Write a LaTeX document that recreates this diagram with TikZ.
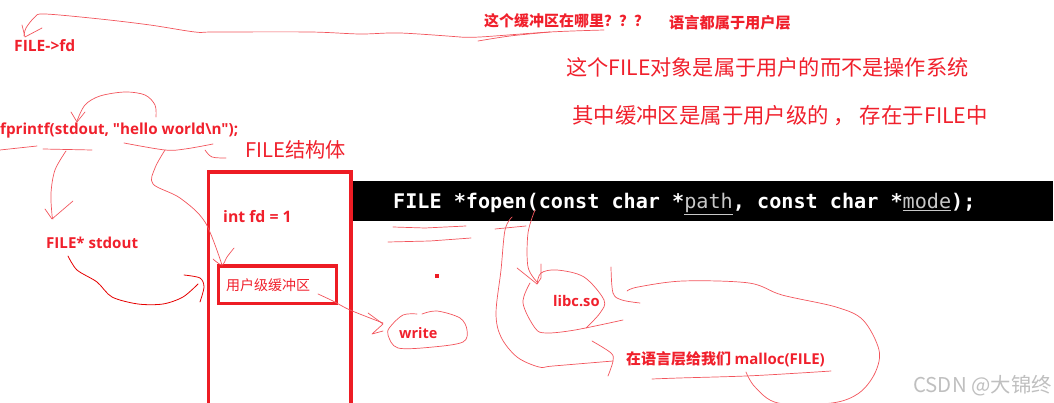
\documentclass[tikz,border=0pt]{standalone}
\usepackage{fontspec}
\setmainfont{Noto Sans CJK SC}
\newfontfamily\codefont{DejaVu Sans Mono}
\newfontfamily\latfont{Open Sans}[BoldFont={Open Sans Bold}]
\definecolor{inkred}{HTML}{F0202C}
\definecolor{penred}{HTML}{F2545C}
\definecolor{markred}{HTML}{ED1C24}
\definecolor{linkgrey}{HTML}{C8C8C8}
\newcommand{\fsz}[1]{\fontsize{#1}{#1}\selectfont}
\tikzset{
  boldnote/.style={text=inkred,inner sep=0pt,anchor=west,font=\bfseries\fsz{#1}},
  plainnote/.style={text=inkred,inner sep=0pt,anchor=west,font=\fsz{#1}},
  pen/.style={draw=penred,line width=0.7pt,line cap=round,line join=round,smooth,tension=0.55},
  hardpen/.style={draw=red!90!black,line width=0.8pt,line cap=round,line join=round},
  heavybox/.style={draw=markred,line join=miter},
}
\begin{document}
\begin{tikzpicture}[x=1pt,y=-1pt]
\useasboundingbox (0,0) rectangle (1054,403);
% black signature bar
\fill[black] (351,181) rectangle (1053,221);
\node[text=white,inner sep=0pt,anchor=west,font=\codefont\bfseries\fsz{20.15}] (sig) at (393,204)
  {FILE *fopen(const char *{\color{linkgrey}\mdseries\underline{path}}, const char *{\color{linkgrey}\mdseries\underline{mode}});};
% FILE struct boxes
\draw[heavybox,line width=3.5pt] (208.5,403) -- (208.5,172) -- (351,172) -- (351,403);
\draw[heavybox,line width=3pt] (218,266) rectangle (336,303);
% text
\node[boldnote=15.6] (fd) at (14,45.5) {\latfont\bfseries FILE->fd};
\node[boldnote=15] (where) at (484,20.5) {这个缓冲区在哪里？？？};
\node[boldnote=15.2] (lang) at (669,22.5) {语言都属于用户层};
\node[plainnote=21.2] (obj) at (566,67) {这个FILE对象是属于用户的而不是操作系统};
\node[plainnote=21.4] (buf) at (572,115.5) {其中缓冲区是属于用户级的 ， 存在于FILE中};
\node[boldnote=15.2] (fpr) at (0,131) {\latfont\bfseries fprintf(stdout, "hello world\textbackslash n");};
\node[plainnote=20.2] (struct) at (245,150) {FILE结构体};
\node[boldnote=15.8] (intfd) at (223,217) {\latfont\bfseries int fd = 1};
\node[boldnote=15.1] (stdout) at (46,243) {\latfont\bfseries FILE* stdout};
\node[plainnote=14] (ubuf) at (226,285) {用户级缓冲区};
\node[boldnote=14.5] (write) at (399,333.5) {\latfont\bfseries write};
\node[boldnote=14.7] (libc) at (553,301) {\latfont\bfseries libc.so};
\node[boldnote=15] (malloc) at (626,359) {在语言层给我们 {\latfont\bfseries malloc(FILE)}};
\node[text=gray!50,inner sep=0pt,anchor=east,font=\fsz{20.4}] (mark) at (1052,386) {CSDN @大锦终};
% dot
\fill[markred] (435,274) rectangle (439,278);
% top long curve to FILE->fd
\draw[pen] plot coordinates {(604,30) (550,32) (480,37) (460,37)};
\draw[pen] plot coordinates {(478,41) (510,36) (550,32)};
\draw[pen] plot coordinates {(460,37) (400,33) (360,34) (310,32) (215,32) (195,32) (150,25) (100,19) (45,14) (35,17) (26,28) (24,36)};
\draw[pen] (22,25) -- (25,37) -- (42,28);
% fprintf loop
\draw[pen] plot coordinates {(156,117) (155,105) (145,95) (125,92) (100,96) (85,105) (77,121)};
\draw[pen] (71,112) -- (77,122) -- (85,112);
% underlines of fprintf
\draw[pen] (0,150) -- (37,146);
\draw[pen] (43,149) -- (92,150);
\draw[pen] plot coordinates {(124,143) (165,150) (185,149) (213,144)};
\draw[pen] plot coordinates {(205,150) (212,157) (226,158)};
% branch to FILE* stdout
\draw[pen] plot coordinates {(66,151) (55,170) (51,193) (52,215) (53,219)};
\draw[pen] (45,209) -- (52,219) -- (73,201);
% branch to user buffer
\draw[pen] plot coordinates {(165,150) (155,168) (153,184) (180,198) (205,222) (222,265)};
\draw[pen] plot coordinates {(213,259) (222,265) (227,257) (234,248)};
% stdout to FILE box
\draw[hardpen] plot[smooth,tension=0.5] coordinates {(68,256) (77,270) (97,282) (112,297) (138,304) (163,304) (183,297) (198,284)};
\draw[hardpen] plot[smooth,tension=0.5] coordinates {(184,275) (200,278) (204,287) (200,302)};
% buffer to write
\draw[pen] plot coordinates {(318,294) (333,301) (350,310) (383,323)};
\draw[pen] (368,313) -- (383,324) -- (372,334) -- (383,331);
% write loop
\draw[pen] plot coordinates {(417,314) (403,315) (390,327) (388,335) (398,348) (433,347) (463,342) (467,330) (460,318) (437,311) (422,314)};
% fopen underlines
\draw[pen] (393,227) -- (425,228) -- (466,226);
\draw[pen] (388,242) -- (430,241) -- (471,238);
\draw[pen] (495,229) -- (526,226);
% fopen long curve to malloc
\draw[pen] plot coordinates {(512,217) (505,230) (501,270) (496,313) (501,337) (517,357) (539,367) (553,366) (613,361)};
\draw[pen] plot coordinates {(592,341) (611,353) (613,361) (608,376)};
% fopen to libc
\draw[pen] plot coordinates {(535,210) (528,233) (528,267) (538,283)};
\draw[pen] (517,268) -- (537,284) -- (541,278) -- (541,264);
% libc circle
\draw[pen] plot coordinates {(537,284) (541,273) (557,270) (584,277) (604,300) (600,313) (586,328)};
\draw[pen] plot coordinates {(530,283) (523,303) (535,328) (546,333) (575,330) (623,320)};
% big curve
\draw[pen] plot coordinates {(611,267) (613,293) (622,300) (640,303)};
\draw[pen] plot coordinates {(627,291) (638,287) (683,281) (749,283) (782,295) (836,307) (863,320) (879,350) (875,373) (859,393) (832,403) (778,403) (755,387) (746,372)};
% malloc underline
\draw[pen] plot coordinates {(652,379) (679,378) (746,376) (800,373) (831,371)};
\end{tikzpicture}
\end{document}
